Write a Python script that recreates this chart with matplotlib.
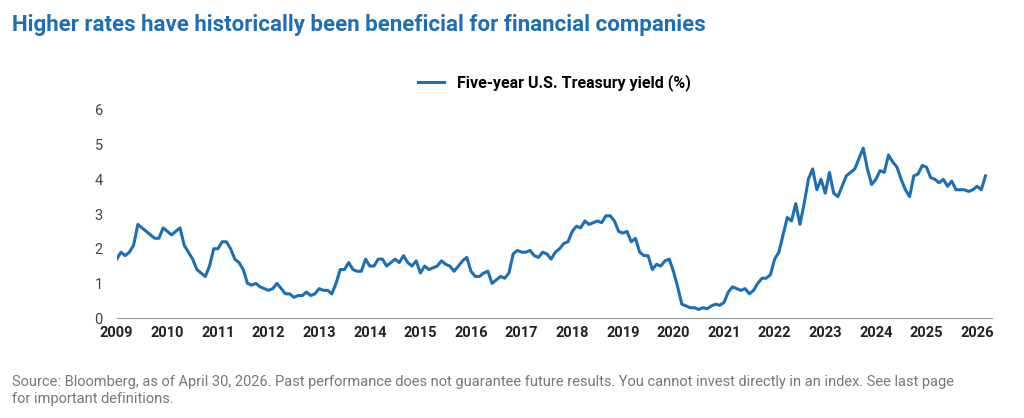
import matplotlib.pyplot as plt
import numpy as np

plt.rcParams["font.family"] = ["Roboto", "DejaVu Sans"]

BLUE = "#1d6fb5"

# monthly five-year yield estimates, Jan 2009 .. Mar 2026
y2009 = [1.7, 1.9, 1.8, 1.9, 2.1, 2.7, 2.6, 2.5, 2.4, 2.3, 2.3, 2.6]
y2010 = [2.5, 2.4, 2.5, 2.6, 2.1, 1.9, 1.7, 1.4, 1.3, 1.2, 1.5, 2.0]
y2011 = [2.0, 2.2, 2.2, 2.0, 1.7, 1.6, 1.4, 1.0, 0.95, 1.0, 0.9, 0.85]
y2012 = [0.8, 0.85, 1.0, 0.85, 0.7, 0.7, 0.6, 0.65, 0.65, 0.75, 0.65, 0.7]
y2013 = [0.85, 0.8, 0.8, 0.7, 1.0, 1.4, 1.4, 1.6, 1.4, 1.35, 1.35, 1.7]
y2014 = [1.5, 1.5, 1.7, 1.7, 1.5, 1.6, 1.7, 1.6, 1.8, 1.6, 1.5, 1.65]
y2015 = [1.3, 1.5, 1.4, 1.45, 1.5, 1.65, 1.55, 1.5, 1.35, 1.5, 1.65, 1.75]
y2016 = [1.35, 1.2, 1.2, 1.3, 1.35, 1.0, 1.1, 1.2, 1.15, 1.3, 1.85, 1.95]
y2017 = [1.9, 1.9, 1.95, 1.8, 1.75, 1.9, 1.85, 1.7, 1.9, 2.0, 2.15, 2.2]
y2018 = [2.5, 2.65, 2.6, 2.8, 2.7, 2.75, 2.8, 2.75, 2.95, 2.95, 2.8, 2.5]
y2019 = [2.45, 2.5, 2.2, 2.3, 1.9, 1.8, 1.8, 1.4, 1.55, 1.5, 1.65, 1.7]
y2020 = [1.35, 0.9, 0.4, 0.35, 0.3, 0.3, 0.25, 0.3, 0.27, 0.35, 0.4, 0.37]
y2021 = [0.45, 0.75, 0.9, 0.85, 0.8, 0.85, 0.7, 0.8, 1.0, 1.15, 1.15, 1.25]
y2022 = [1.7, 1.9, 2.4, 2.9, 2.8, 3.3, 2.7, 3.3, 4.0, 4.3, 3.7, 4.0]
y2023 = [3.6, 4.2, 3.6, 3.5, 3.8, 4.1, 4.2, 4.3, 4.6, 4.9, 4.3, 3.85]
y2024 = [4.0, 4.25, 4.2, 4.7, 4.5, 4.35, 4.0, 3.7, 3.5, 4.1, 4.15, 4.4]
y2025 = [4.35, 4.05, 4.0, 3.9, 4.0, 3.8, 3.95, 3.7, 3.7, 3.7, 3.65, 3.7]
y2026 = [3.8, 3.7, 4.1]

yields = (y2009 + y2010 + y2011 + y2012 + y2013 + y2014 + y2015 + y2016 + y2017
          + y2018 + y2019 + y2020 + y2021 + y2022 + y2023 + y2024 + y2025 + y2026)
dates = 2009 + np.arange(len(yields)) / 12
years = list(range(2009, 2027))

fig = plt.figure(figsize=(10.24, 4.18), dpi=100)
ax = fig.add_axes([0.114, 0.239, 0.855, 0.498])
ax.plot(dates, yields, color=BLUE, lw=2.2, label="Five-year U.S. Treasury yield (%)")

ax.set_ylim(0, 6)
ax.set_xlim(2009, 2026.3)
ax.set_yticks(range(0, 7))
ax.set_xticks(years)
ax.set_xticklabels([str(y) for y in years], fontweight="bold", fontsize=10.5, color="#222222")
ax.tick_params(axis="y", length=0, labelsize=10.5, labelcolor="#444444", pad=10)
ax.tick_params(axis="x", length=0, pad=6)
for s in ["top", "right", "left"]:
    ax.spines[s].set_visible(False)
ax.spines["bottom"].set_color("#999999")

ax.legend(loc="lower center", bbox_to_anchor=(0.5, 1.02), frameon=False,
          prop={"weight": "bold", "size": 11.5}, handlelength=1.6)

fig.text(0.012, 0.925, "Higher rates have historically been beneficial for financial companies",
         color=BLUE, fontsize=16, fontweight="bold")
fig.text(0.012, 0.035,
         "Source: Bloomberg, as of April 30, 2026. Past performance does not guarantee future results. "
         "You cannot invest directly in an index. See last page\nfor important definitions.",
         color="#777777", fontsize=10.5, linespacing=1.3)

fig.savefig("out.png", dpi=100)
